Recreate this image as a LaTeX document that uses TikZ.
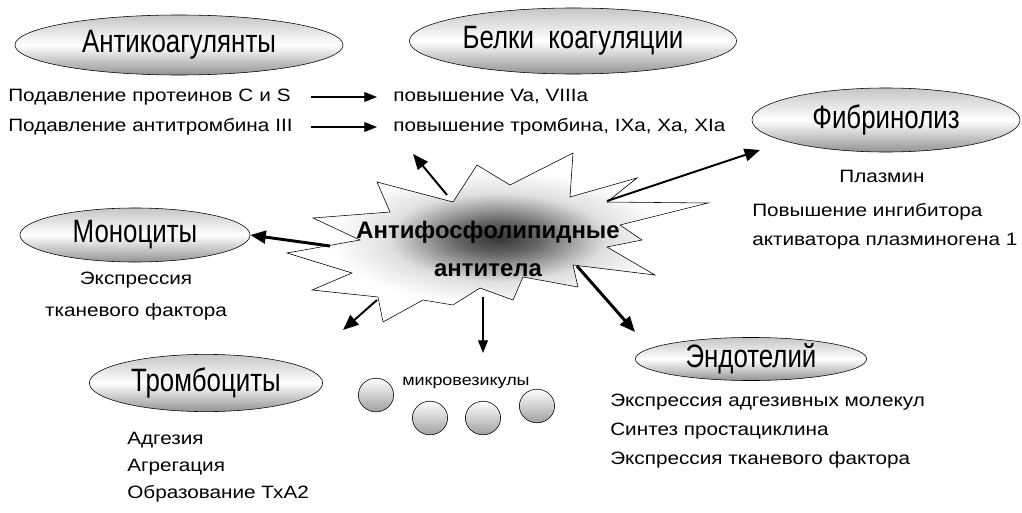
\documentclass[tikz,border=0pt]{standalone}
\usepackage{fontspec}
\setmainfont{Liberation Sans}
\newfontfamily\headfont[FakeStretch=0.8]{Liberation Sans}
\newfontfamily\bodyfont[FakeStretch=1.16]{Liberation Sans}
\usetikzlibrary{shapes.geometric,arrows.meta}
\pgfdeclareradialshading{glow}{\pgfpoint{0bp}{0bp}}{color(0bp)=(black!80); color(5bp)=(black!60); color(13bp)=(gray!25); color(20bp)=(white); color(50bp)=(white)}

\begin{document}
\begin{tikzpicture}[x=0.025cm,y=-0.025cm]
	\tikzstyle{group}=[ellipse,draw=black,thin,top color=gray!45,bottom color=gray!85,middle color=white,inner sep=0pt,font=\headfont\fontsize{23}{26}\selectfont]
	\tikzstyle{fact}=[inner sep=0pt,font=\bodyfont\fontsize{12.7}{20.5}\selectfont,align=left]
	\tikzstyle{line}=[fact,text height=9.5pt,text depth=2.6pt]
	\tikzstyle{vesicle}=[ellipse,draw=black,thin,top color=white,bottom color=gray!75,minimum width=0.88cm,minimum height=0.84cm]
	\tikzstyle{edge}=[draw,line width=1.4pt,-{Triangle[length=11pt,width=9pt]}]
	\tikzstyle{bold edge}=[edge,line width=2.1pt]
	\tikzstyle{thin edge}=[draw,line width=0.8pt,-{Triangle[length=9pt,width=7pt]}]

	\useasboundingbox (0,0) rectangle (1022,513);

	% the star in the middle
	\shade[draw=black,thin,shading=glow]
		(377,182) -- (453,202) -- (477,165) -- (510,185) -- (573,153) -- (570,197) -- (637,178)
		-- (607,202) -- (708,203) -- (620,225) -- (642,240) -- (607,247) -- (655,275) -- (573,265)
		-- (578,287) -- (523,277) -- (513,300) -- (480,288) -- (453,305) -- (423,300) -- (383,322)
		-- (378,297) -- (312,290) -- (352,273) -- (287,253) -- (360,240) -- (313,218) -- (390,212) -- cycle;

	\begin{scope}
		\node [group,minimum width=8.2cm,minimum height=1.5cm] (antikoag) at (179,45) {Антикоагулянты};
		\node [group,minimum width=8.18cm,minimum height=1.65cm] (belki) at (573,41) {Белки~~коагуляции};
		\node [group,minimum width=6.7cm,minimum height=1.6cm] (fibrin) at (886,120) {Фибринолиз};
		\node [group,minimum width=5.75cm,minimum height=1.35cm] (mono) at (135,235) {Моноциты};
		\node [group,minimum width=5.83cm,minimum height=1.43cm] (tromb) at (206,383) {Тромбоциты};
		\node [group,minimum width=5.78cm,minimum height=0.88cm] (endo) at (751,359) {Эндотелий};

		\node [line,anchor=west,text width=7.55cm] (protCS) at (8,97) {Подавление протеинов С и S};
		\node [line,anchor=west,text width=7.55cm] (antithr) at (8,127) {Подавление антитромбина III};
		\node [line,anchor=west] (incV) at (393,97) {повышение Va, VIIIa};
		\node [line,anchor=west] (incThr) at (393,127) {повышение тромбина, IXa, Xa, XIa};

		\node [line] (plasmin) at (882,178) {Плазмин};
		\node [fact,anchor=west] (pai) at (752,226) {Повышение ингибитора\\активатора плазминогена 1};
		\node [fact,align=center] (monoTxt) at (136,296) {Экспрессия\\[2pt]тканевого фактора};
		\node [fact,anchor=west] (trombTxt) at (127,467) {Адгезия\\[-1.5pt]Агрегация\\[-1.5pt]Образование ТхА2};
		\node [fact,anchor=west] (endoTxt) at (610,431) {Экспрессия адгезивных молекул\\Синтез простациклина\\Экспрессия тканевого фактора};

		\node [fact,anchor=west,font=\bodyfont\fontsize{11}{13}\selectfont] (mvTxt) at (402,383) {микровезикулы};
		\node [vesicle] (ves1) at (376,395) {};
		\node [vesicle] (ves2) at (430,418) {};
		\node [vesicle] (ves3) at (483,418) {};
		\node [vesicle] (ves4) at (537,406) {};

		\node [font=\bfseries\fontsize{17}{27}\selectfont,align=center] (apl) at (488,249) {Антифосфолипидные\\антитела};

		\coordinate (sBelki) at (447,195);
		\coordinate (eBelki) at (413,154);
		\coordinate (sMono) at (330,246);
		\coordinate (sTromb) at (377,300);
		\coordinate (eTromb) at (343,330);
		\coordinate (sVes) at (483,297);
		\coordinate (eVes) at (483,353);
		\coordinate (sEndo) at (577,266);
		\coordinate (eEndo) at (635,332);
		\coordinate (sFibr) at (607,201);
		\coordinate (eFibr) at (760,150);

		\path (protCS.east) edge[thin edge,shorten >=11.4pt] (incV.west);
		\path (antithr.east) edge[thin edge,shorten >=11.4pt] (incThr.west);
		\path (sBelki) edge[edge] (eBelki);
		\path (sMono) edge[bold edge] (mono.east);
		\path (sTromb) edge[edge] (eTromb);
		\path (sVes) edge[thin edge] (eVes);
		\path (sEndo) edge[bold edge] (eEndo);
		\path (sFibr) edge[edge] (eFibr);
	\end{scope}
\end{tikzpicture}
\end{document}
